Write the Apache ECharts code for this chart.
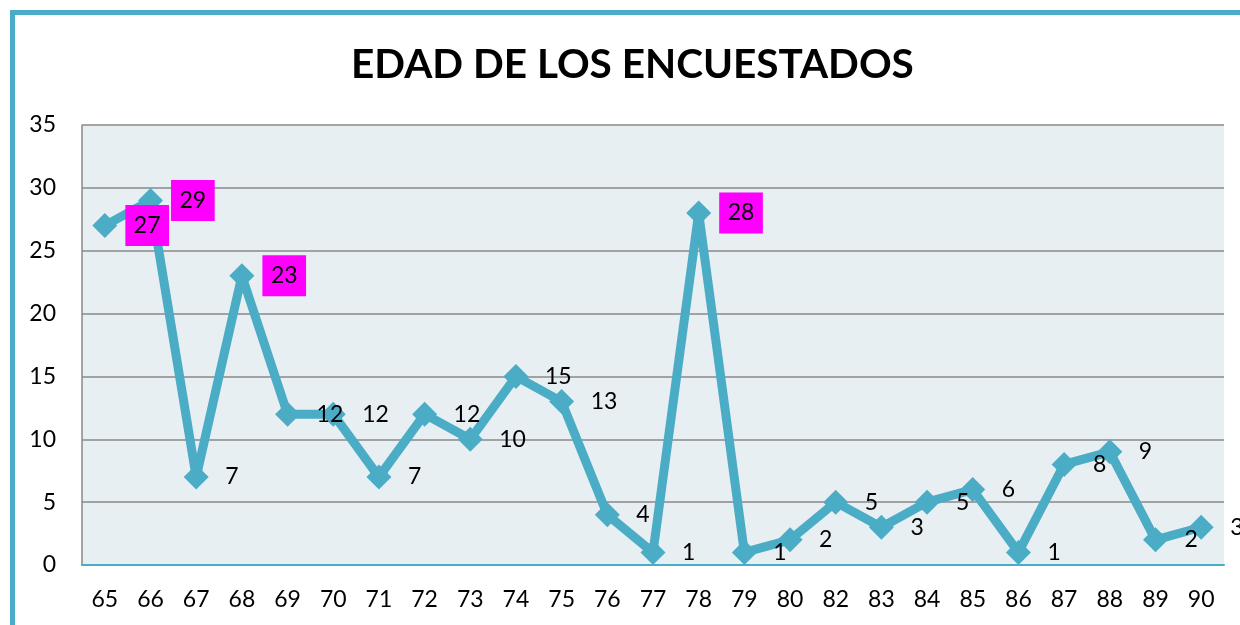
<!DOCTYPE html>
<html><head><meta charset="utf-8">
<script src="https://cdn.jsdelivr.net/npm/echarts@6/dist/echarts.min.js"></script>
<style>html,body{margin:0;padding:0;background:#fff;}#c{width:1240px;height:625px;}</style>
</head><body><div id="c"></div>
<script>
const categories = ['65','66','67','68','69','70','71','72','73','74','75','76','77','78','79','80','82','83','84','85','86','87','88','89','90'];
const values = [27,29,7,23,12,12,7,12,10,15,13,4,1,28,1,2,5,3,5,6,1,8,9,2,3];
const highlighted = ['65','66','68','78'];
const yTicks = {min:0, max:35, interval:5};

const teal = '#4BACC6';
const chart = echarts.init(document.getElementById('c'));
const data = values.map((v,i)=>{
  const item = {value:v};
  if (highlighted.indexOf(categories[i])>=0) item.label = {backgroundColor:'#FF00FF'};
  return item;
});
chart.setOption({
  animation:false,
  textStyle:{fontFamily:'Lato'},
  title:{text:'EDAD DE LOS ENCUESTADOS', left:346, top:39,
    textStyle:{fontFamily:'Lato', fontWeight:'bold', fontSize:40.5, color:'#000'}},
  graphic:[
    {type:'rect', shape:{x:10,y:10,width:1240,height:5}, style:{fill:teal}},
    {type:'rect', shape:{x:10,y:10,width:5,height:640}, style:{fill:teal}}
  ],
  grid:{left:82,right:16,top:125,bottom:60,show:true,backgroundColor:'#E8EFF3',borderWidth:0},
  xAxis:{type:'category', data:categories, boundaryGap:true,
    axisLine:{lineStyle:{color:teal,width:2}}, axisTick:{show:false},
    axisLabel:{color:'#000', fontSize:23, margin:23}},
  yAxis:{type:'value', min:yTicks.min, max:yTicks.max, interval:yTicks.interval,
    axisLine:{show:true, lineStyle:{color:'#888',width:1.5}}, axisTick:{show:false},
    splitLine:{lineStyle:{color:'#888',width:1.5}},
    axisLabel:{color:'#000', fontSize:23, margin:26}},
  series:[{type:'line', data:data, symbol:'diamond', symbolSize:25,
    lineStyle:{color:teal,width:9}, itemStyle:{color:teal},
    label:{show:true, position:'right', distance:8, color:'#000', fontSize:23,
      lineHeight:21, padding:[10,8.5]}}]
});
</script></body></html>
